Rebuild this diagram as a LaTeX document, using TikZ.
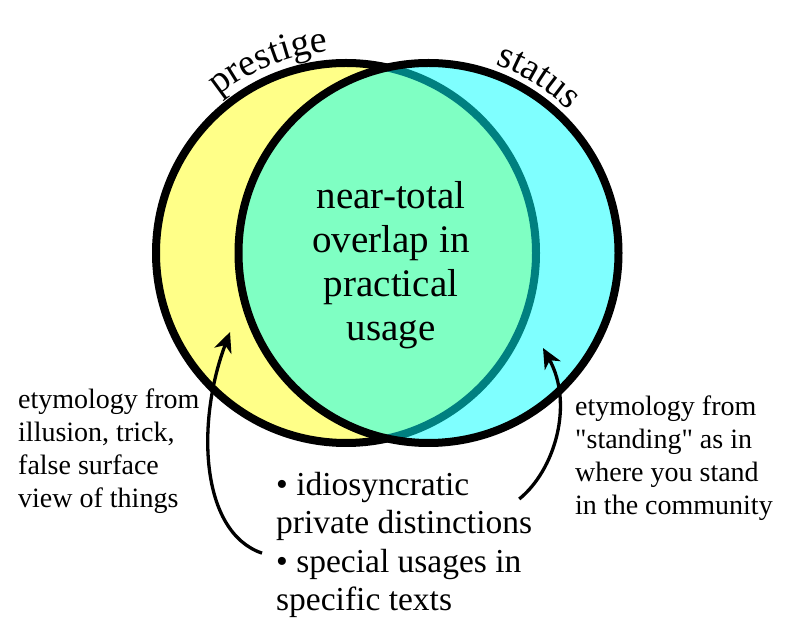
\documentclass[tikz,border=0pt]{standalone}
\usepackage{fontspec}
\setmainfont{Liberation Serif}
\usetikzlibrary{arrows.meta,decorations.text,calc}
\definecolor{lyellow}{RGB}{255,255,136}
\definecolor{lcyan}{RGB}{0,255,255}
\begin{document}
\begin{tikzpicture}[x=1pt,y=1pt,
  ring/.style={circle, minimum size=380pt, inner sep=0pt, line width=8pt, draw=black},
  sidetext/.style={inner sep=0pt, align=left, anchor=north west, font=\fontsize{28}{33}\selectfont},
  bottomtext/.style={inner sep=0pt, align=left, anchor=north west, font=\fontsize{33.5}{38.5}\selectfont},
  centertext/.style={inner sep=0pt, align=center, anchor=north, font=\fontsize{39}{44}\selectfont},
  arcword/.style={decorate, decoration={text along path, text align=center, text={#1}}},
  arr/.style={line width=3.3pt, -{Stealth[length=20pt,width=18pt,inset=6pt]}}]
\fill[white] (0,0) rectangle (808,642);
\useasboundingbox (0,0) rectangle (808,642);
% circles
\node[ring, fill=lyellow] (L) at (346,389) {};
\node[ring, fill=lcyan, fill opacity=0.5] (R) at (428.5,389) {};
% curved labels
\path[arcword={|\fontsize{38}{40}\selectfont|prestige}] ($(L.center)+(150:202)$) arc[start angle=150, end angle=74, radius=202];
\path[arcword={|\fontsize{38}{40}\selectfont|status}] ($(R.center)+(96:200)$) arc[start angle=96, end angle=20, radius=200];
% texts
\node[centertext] (C) at (391,461) {near-total\\overlap in\\practical\\usage};
\node[sidetext] (E1) at (18,253) {etymology from\\illusion, trick,\\false surface\\view of things};
\node[sidetext] (E2) at (575,246) {etymology from\\\textquotedbl standing\textquotedbl{} as in\\where you stand\\in the community};
\node[bottomtext] (B) at (276,170) {• idiosyncratic\\private distinctions\\• special usages in\\specific texts};
% arrow targets
\coordinate (pa) at (230,310);
\coordinate (sa) at (543,294);
\draw[arr] ([xshift=-14pt,yshift=-8pt]B.west) .. controls (200,110) and (196,220) .. (pa);
\draw[arr] ([xshift=-13pt,yshift=-27pt]B.north east) .. controls (555,172) and (574,238) .. (sa);
\end{tikzpicture}
\end{document}
